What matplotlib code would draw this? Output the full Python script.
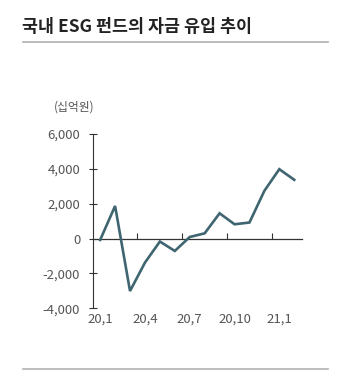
import matplotlib
matplotlib.use("Agg")
import matplotlib.pyplot as plt
from matplotlib.lines import Line2D

plt.rcParams['font.family'] = ['Noto Sans CJK KR', 'DejaVu Sans']

# 국내 ESG 펀드 월별 자금 유입 (십억원), 20.1 ~ 21.2
months = ['20,1', '20,2', '20,3', '20,4', '20,5', '20,6', '20,7',
          '20,8', '20,9', '20,10', '20,11', '20,12', '21,1', '21,2']
inflow = [-80, 1870, -3010, -1380, -170, -710, 90,
          300, 1450, 820, 920, 2740, 3980, 3370]
yticks = [-4000, -2000, 0, 2000, 4000, 6000]

line_color = '#3f6570'
text_color = '#555555'
axis_color = '#333333'

fig = plt.figure(figsize=(3.53, 3.73), dpi=100)
ax = fig.add_axes([0.2626, 0.1735, 0.5921, 0.4673])

x = list(range(len(months)))
ax.plot(x, inflow, color=line_color, lw=1.9, solid_joinstyle='miter')

ax.set_xlim(-0.5, len(months) - 0.5)
ax.set_ylim(-4000, 6000)

# y axis
ax.set_yticks(yticks)
ax.set_yticklabels([f'{v:,}' for v in yticks], color=text_color, fontsize=9.5)
ax.tick_params(axis='y', direction='inout', length=6, width=0.8,
               color=axis_color, pad=6)
ax.spines['left'].set_color(axis_color)
ax.spines['left'].set_linewidth(0.8)
for s in ['top', 'right', 'bottom']:
    ax.spines[s].set_visible(False)

# x labels at bottom (every 3 months)
ax.set_xticks(x[::3])
ax.set_xticklabels(months[::3], color=text_color, fontsize=9.5)
ax.tick_params(axis='x', length=0, pad=3)

# zero line with category boundary ticks
zero_frac = (0 - yticks[0]) / (yticks[-1] - yticks[0])
sec = ax.secondary_xaxis(zero_frac)
sec.set_xticks([i + 2.5 for i in x[::3][:-1]])
sec.set_xticklabels([])
sec.tick_params(direction='in', length=4, width=0.8, color=axis_color)
sec.spines['bottom'].set_color(axis_color)
sec.spines['bottom'].set_linewidth(0.9)
sec.spines['top'].set_visible(False)

fig.text(0.153, 0.713, '(십억원)', fontsize=8.5, color=text_color,
         ha='left', va='center')

# title and rules
fig.text(0.063, 0.928, '국내 ESG 펀드의 자금 유입 추이', fontsize=12.5,
         fontweight='bold', color='#222222', ha='left', va='center')
fig.add_artist(Line2D([0.065, 0.929], [0.888, 0.888], color='#b0b0b0',
                      lw=1.2, transform=fig.transFigure))
fig.add_artist(Line2D([0.065, 0.929], [0.012, 0.012], color='#b0b0b0',
                      lw=1.2, transform=fig.transFigure))

fig.savefig('out.png', dpi=100)
